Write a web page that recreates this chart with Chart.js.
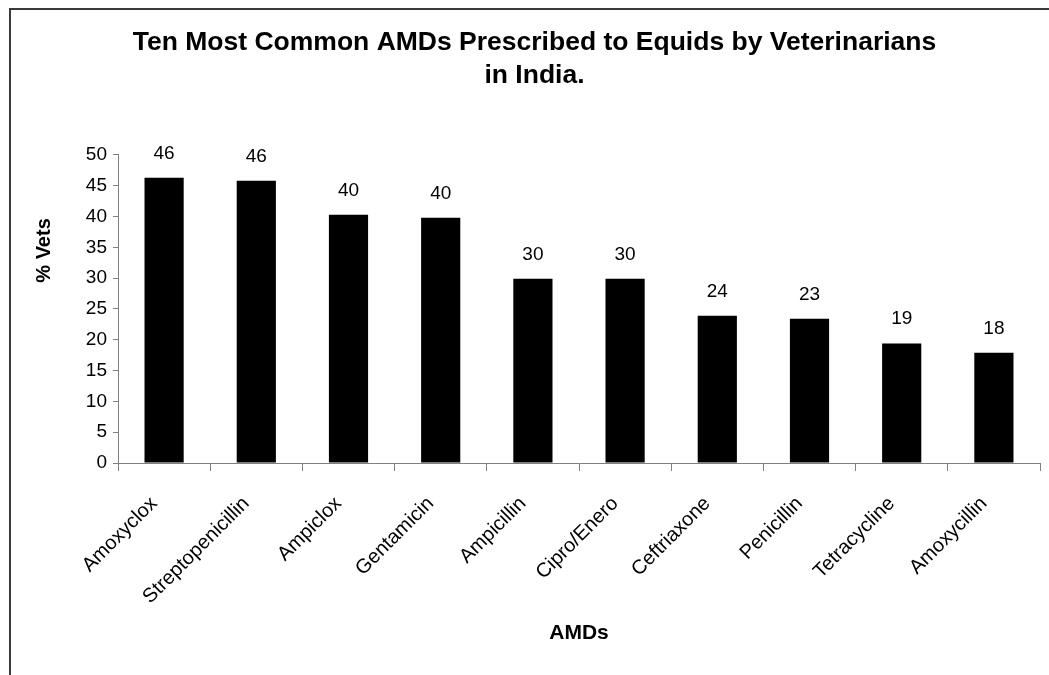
<!DOCTYPE html>
<html>
<head>
<meta charset="utf-8">
<script src="https://cdn.jsdelivr.net/npm/chart.js@4/dist/chart.umd.min.js"></script>
<style>
  html, body { margin: 0; padding: 0; background: #fff; }
  canvas { display: block; }
</style>
</head>
<body>
<canvas id="chart" width="1049" height="675"></canvas>
<script>
// Antimicrobial drugs and share of vets prescribing each (%)
const categories = ['Amoxyclox', 'Streptopenicillin', 'Ampiclox', 'Gentamicin', 'Ampicillin',
                    'Cipro/Enero', 'Ceftriaxone', 'Penicillin', 'Tetracycline', 'Amoxycillin'];
const percentVets = [46.3, 45.8, 40.3, 39.8, 29.9, 29.9, 23.9, 23.4, 19.4, 17.9];
const yTicks = [0, 5, 10, 15, 20, 25, 30, 35, 40, 45, 50];

const titleLines = ['Ten Most Common AMDs Prescribed to Equids by Veterinarians', 'in India.'];
const yTitle = '% Vets';
const xTitle = 'AMDs';
const FONT = '"Liberation Sans", Arial, sans-serif';

// White background plus the outer frame of the chart
const framePlugin = {
  id: 'frame',
  beforeDraw(chart) {
    const ctx = chart.ctx;
    ctx.save();
    ctx.fillStyle = '#fff';
    ctx.fillRect(0, 0, chart.width, chart.height);
    ctx.strokeStyle = '#3a3a3a';
    ctx.lineWidth = 2;
    ctx.strokeRect(10, 9, chart.width + 20, chart.height + 20);
    ctx.restore();
  }
};

// Rounded value printed above every bar
const valueLabels = {
  id: 'valueLabels',
  afterDatasetsDraw(chart) {
    const ctx = chart.ctx;
    const meta = chart.getDatasetMeta(0);
    const data = chart.data.datasets[0].data;
    ctx.save();
    ctx.font = '19px ' + FONT;
    ctx.fillStyle = '#000';
    ctx.textAlign = 'center';
    ctx.textBaseline = 'alphabetic';
    meta.data.forEach((bar, i) => {
      ctx.fillText(String(Math.round(data[i])), bar.x, bar.y - 19);
    });
    ctx.restore();
  }
};

// Vertical axis title, sitting a little above the middle of the value axis
const yTitlePlugin = {
  id: 'yTitle',
  afterDraw(chart) {
    const ctx = chart.ctx;
    const area = chart.chartArea;
    ctx.save();
    ctx.translate(44, area.top + (area.bottom - area.top) * 0.31);
    ctx.rotate(-Math.PI / 2);
    ctx.font = 'bold 20px ' + FONT;
    ctx.fillStyle = '#000';
    ctx.textAlign = 'center';
    ctx.textBaseline = 'middle';
    ctx.fillText(yTitle, 0, 0);
    ctx.restore();
  }
};

new Chart(document.getElementById('chart'), {
  type: 'bar',
  data: {
    labels: categories,
    datasets: [{
      data: percentVets,
      backgroundColor: '#000',
      borderWidth: 0,
      categoryPercentage: 1,
      barPercentage: 0.425
    }]
  },
  options: {
    responsive: false,
    devicePixelRatio: 1,
    animation: false,
    layout: { padding: { left: 29, right: 9, top: 0, bottom: 0 } },
    plugins: {
      legend: { display: false },
      tooltip: { enabled: false },
      title: {
        display: true,
        text: titleLines,
        color: '#000',
        font: { family: FONT, size: 26.5, weight: 'bold', lineHeight: 1.245 },
        padding: { top: 26.5, bottom: 62.5 }
      }
    },
    scales: {
      x: {
        grid: { offset: true, drawOnChartArea: false, tickLength: 8, color: '#808080' },
        border: { color: '#808080', width: 1 },
        ticks: {
          color: '#000',
          font: { family: FONT, size: 20 },
          minRotation: 45,
          maxRotation: 45,
          padding: 21,
          labelOffset: -10,
          autoSkip: false
        },
        title: {
          display: true,
          text: xTitle,
          color: '#000',
          font: { family: FONT, size: 21, weight: 'bold' },
          padding: { top: 0, bottom: 29 }
        },
        afterFit(scale) { scale.height = 212; }
      },
      y: {
        min: 0,
        max: 50,
        afterBuildTicks(scale) { scale.ticks = yTicks.map(v => ({ value: v })); },
        grid: { drawOnChartArea: false, tickLength: 5, color: '#808080' },
        border: { color: '#808080', width: 1 },
        ticks: {
          color: '#000',
          font: { family: FONT, size: 19 },
          padding: 6
        },
        afterFit(scale) { scale.width = 89; }
      }
    }
  },
  plugins: [framePlugin, valueLabels, yTitlePlugin]
});
</script>
</body>
</html>
